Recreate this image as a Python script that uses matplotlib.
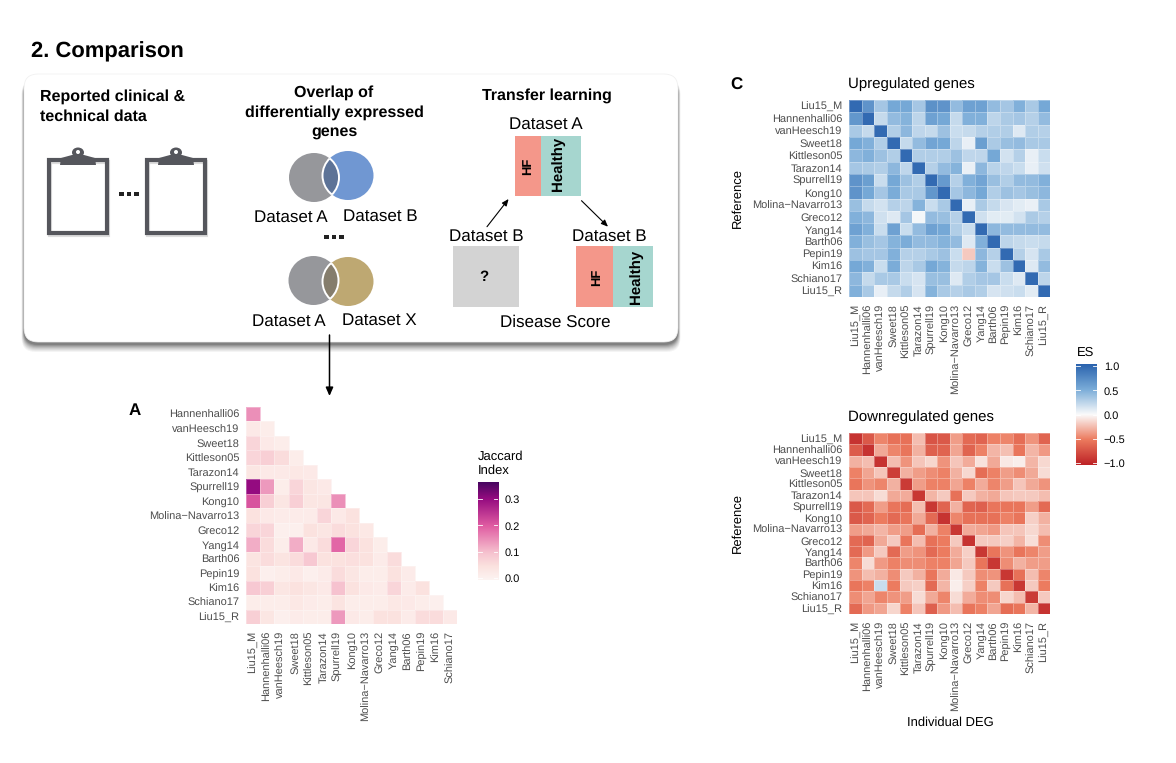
import numpy as np
import matplotlib
matplotlib.use("Agg")
import matplotlib.pyplot as plt
from matplotlib.patches import Ellipse, Rectangle, FancyBboxPatch, Polygon
from matplotlib.colors import LinearSegmentedColormap

plt.rcParams['font.family'] = ['Liberation Sans', 'DejaVu Sans']
plt.rcParams['text.hinting'] = 'no_hinting'
plt.rcParams['text.hinting_factor'] = 1

W, H = 1176, 763

labels = ["Liu15_M", "Hannenhalli06", "vanHeesch19", "Sweet18", "Kittleson05", "Tarazon14",
          "Spurrell19", "Kong10", "Molina\u2212Navarro13", "Greco12", "Yang14", "Barth06",
          "Pepin19", "Kim16", "Schiano17", "Liu15_R"]

jaccard = [
    [.15],
    [.03, .02],
    [.07, .03, .02],
    [.07, .08, .06, .02],
    [.04, .03, .03, .035, .03],
    [.30, .14, .02, .07, .04, .03],
    [.21, .08, .04, .08, .04, .04, .15],
    [.05, .03, .025, .025, .025, .07, .03, .05],
    [.07, .07, .015, .015, .05, .04, .06, .05, .035],
    [.12, .06, .02, .12, .03, .06, .19, .07, .05, .02],
    [.045, .06, .045, .06, .09, .05, .05, .055, .05, .025, .06],
    [.05, .015, .02, .03, .015, .025, .06, .04, .02, .02, .05, .025],
    [.09, .08, .04, .05, .04, .03, .10, .05, .03, .025, .07, .025, .05],
    [.02, .02, .02, .035, .025, .02, .045, .02, .02, .02, .035, .03, .02, .015],
    [.08, .04, .015, .025, .02, .02, .14, .03, .02, .05, .05, .025, .06, .06, .03],
]

up_es = [
    [1, .7, .35, .55, .55, .35, .72, .7, .42, .6, .6, .42, .35, .5, .33, .55],
    [.68, 1, .22, .42, .48, .25, .6, .55, .22, .5, .5, .25, .32, .35, .28, .42],
    [.33, .22, 1, .3, .45, .24, .22, .38, .2, .22, .28, .3, .3, .12, .3, .28],
    [.55, .5, .3, 1, .22, .42, .58, .55, .25, .08, .62, .32, .4, .42, .33, .33],
    [.45, .5, .38, .3, 1, .3, .3, .3, .38, .24, .24, .55, .17, .28, .08, .2],
    [.35, .32, .3, .45, .24, 1, .28, .42, .48, .07, .45, .27, .24, .2, .08, .18],
    [.7, .62, .2, .55, .38, .3, 1, .65, .28, .5, .58, .4, .3, .42, .42, .5],
    [.7, .55, .35, .52, .33, .33, .68, 1, .35, .45, .55, .3, .38, .35, .4, .45],
    [.4, .22, .17, .28, .25, .48, .2, .33, 1, .08, .32, .22, .14, .1, .07, .33],
    [.5, .45, .18, .12, .35, .03, .42, .4, .28, 1, .18, .1, .1, .17, .32, .28],
    [.6, .5, .2, .6, .2, .42, .6, .55, .3, .2, 1, .45, .42, .42, .42, .42],
    [.5, .4, .35, .48, .52, .42, .42, .48, .42, .12, .5, 1, .25, .22, .2, .22],
    [.38, .35, .35, .5, .28, .28, .33, .38, .2, -.2, .45, .28, 1, .28, .15, .33],
    [.55, .5, .2, .52, .25, .33, .55, .48, .22, .25, .48, .2, .38, 1, .12, .42],
    [.45, .22, .33, .33, .2, .15, .4, .4, .12, .3, .35, .35, .2, .12, 1, .25],
    [.5, .33, .08, .22, .3, .15, .48, .33, .28, .33, .3, .15, .18, .2, .1, 1],
]

down_es = [
    [-.95, -.72, -.48, -.58, -.58, -.25, -.75, -.72, -.38, -.62, -.65, -.5, -.48, -.6, -.42, -.65],
    [-.7, -.95, -.33, -.48, -.55, -.3, -.68, -.65, -.35, -.65, -.5, -.28, -.24, -.55, -.28, -.4],
    [-.3, -.25, -.95, -.25, -.42, -.22, -.15, -.42, -.22, -.32, -.1, -.33, -.08, -.05, -.28, -.14],
    [-.5, -.35, -.22, -.88, -.3, -.38, -.45, -.5, -.3, -.14, -.6, -.5, -.38, -.45, -.33, -.13],
    [-.55, -.42, -.48, -.3, -.9, -.38, -.5, -.5, -.35, -.5, -.32, -.48, -.38, -.22, -.33, -.42],
    [-.22, -.22, -.13, -.33, -.32, -.92, -.28, -.2, -.58, -.2, -.3, -.33, -.22, -.2, -.2, -.25],
    [-.72, -.62, -.38, -.55, -.6, -.25, -.92, -.65, -.3, -.65, -.68, -.55, -.55, -.55, -.38, -.62],
    [-.72, -.65, -.52, -.62, -.55, -.33, -.62, -.95, -.48, -.58, -.58, -.58, -.5, -.55, -.18, -.3],
    [-.38, -.33, -.28, -.38, -.38, -.6, -.3, -.5, -.92, -.32, -.35, -.4, -.22, -.22, -.14, -.25],
    [-.62, -.65, -.33, -.2, -.55, -.25, -.58, -.52, -.2, -.95, -.2, -.2, -.18, -.28, -.12, -.45],
    [-.62, -.4, -.2, -.62, -.38, -.42, -.62, -.52, -.32, -.18, -.92, -.55, -.42, -.55, -.48, -.38],
    [-.48, -.13, -.4, -.5, -.45, -.45, -.5, -.5, -.35, -.2, -.55, -.92, -.45, -.3, -.38, -.38],
    [-.42, -.25, -.3, -.45, -.2, -.3, -.55, -.32, -.08, -.2, -.45, -.42, -.92, -.58, -.25, -.48],
    [-.55, -.5, .2, -.52, -.2, -.18, -.62, -.28, -.05, -.18, -.5, -.2, -.58, -.92, -.2, -.52],
    [-.45, -.35, -.48, -.42, -.38, -.13, -.33, -.48, -.13, -.32, -.45, -.45, -.15, -.25, -.9, -.2],
    [-.62, -.4, -.35, -.15, -.5, -.22, -.68, -.4, -.25, -.55, -.5, -.35, -.6, -.55, -.28, -.95],
]

jaccard_ticks = [0.0, 0.1, 0.2, 0.3]
es_ticks = [-1.0, -0.5, 0.0, 0.5, 1.0]
JMAX = 0.365
ESMAX = 1.05

cm_j = LinearSegmentedColormap.from_list("j", [(0, "#fdf4f2"), (.05 / JMAX, "#fbe2df"), (.1 / JMAX, "#f6c2cf"),
                                               (.2 / JMAX, "#e05ca2"), (.3 / JMAX, "#950b80"), (1, "#42065e")])
cm_es = LinearSegmentedColormap.from_list("es", [(0, "#bd2226"), (.25, "#ec7a5e"), (.5, "#fbfbfb"),
                                                 (.75, "#7aacd8"), (1, "#2a63ae")])
GREY = "#4d4d4d"

fig = plt.figure(figsize=(W / 100, H / 100), dpi=100, facecolor="white")


def pxaxes(x0, y0, x1, y1, **kw):
    return fig.add_axes([x0 / W, 1 - y1 / H, (x1 - x0) / W, (y1 - y0) / H], **kw)


bg = pxaxes(0, 0, W, H)
bg.set_xlim(0, W)
bg.set_ylim(H, 0)
bg.axis("off")


def T(x, y, s, size=12.3, weight="normal", ha="center", va="center", rot=0, color="black"):
    return bg.text(x, y, s, fontsize=size, fontweight=weight, ha=ha, va=va, rotation=rot, color=color)


def dots(cx, cy, col="#222222"):
    for dx in (-7.5, 0, 7.5):
        bg.add_patch(Rectangle((cx + dx - 2.3, cy - 2.3), 4.6, 4.6, fc=col, ec="none", zorder=5))


T(31, 52, "2. Comparison", size=16.2, weight="bold", ha="left")

# shadow + box
for grow, a in [(8, .05), (7, .06), (6, .07), (5, .08), (4, .10), (3, .12), (2, .16), (1, .2)]:
    bg.add_patch(FancyBboxPatch((24 - grow * .3, 80), 654 + grow * .6, 264 + grow, boxstyle="round,pad=0,rounding_size=14",
                                fc="#303030", ec="none", alpha=a))
bg.add_patch(FancyBboxPatch((24, 74), 654, 268, boxstyle="round,pad=0,rounding_size=14", fc="white", ec="#eeeeee", lw=.5))

# clipboards
for cx0 in (49, 147):
    cx1 = cx0 + 58
    bg.add_patch(Rectangle((cx0 + 1.2, 161.5), 58, 73, fc="none", ec="#aaaaaa", lw=3, alpha=.4))
    bg.add_patch(Rectangle((cx0, 160), 58, 73, fc="none", ec="#55565c", lw=3))
    mid = (cx0 + cx1) / 2
    bg.add_patch(Polygon([(mid - 18, 165), (mid - 17, 158), (mid - 6, 155), (mid + 6, 155), (mid + 17, 158), (mid + 18, 165)],
                         fc="#55565c", ec="none"))
    bg.add_patch(Ellipse((mid, 152.5), 12, 10, fc="#55565c", ec="none"))
    bg.add_patch(Ellipse((mid, 152), 4, 4, fc="white", ec="none"))
dots(129, 194)
T(40, 97, "Reported clinical &", size=11.6, weight="bold", ha="left")
T(40, 117, "technical data", size=11.6, weight="bold", ha="left")

# venn diagrams
T(334, 93, "Overlap of", size=11.6, weight="bold")
T(334, 113, "differentially expressed", size=11.6, weight="bold")
T(334, 133, "genes", size=11.6, weight="bold")


def venn(c1, c2, col2, lens):
    bg.add_patch(Ellipse(c1, 50, 49, fc="#96979b", ec="none", zorder=2))
    bg.add_patch(Ellipse(c2, 51, 49, fc=col2, ec="none", zorder=2))
    l = Ellipse(c1, 50, 49, fc=lens, ec="white", lw=1.4, zorder=3)
    bg.add_patch(l)
    l.set_clip_path(Ellipse(c2, 51, 49, transform=bg.transData))
    l2 = Ellipse(c2, 51, 49, fc="none", ec="white", lw=1.4, zorder=4)
    bg.add_patch(l2)
    l2.set_clip_path(Ellipse(c1, 50, 49, transform=bg.transData))


venn((314, 177.5), (348, 175.5), "#7097d2", "#5d7397")
venn((313.5, 280.5), (348, 281.5), "#bea872", "#857d6c")
T(290.5, 217, "Dataset A")
T(380.5, 216, "Dataset B")
dots(334, 237)
T(289, 321, "Dataset A")
T(379, 320, "Dataset X")

# transfer learning
T(547, 96, "Transfer learning", size=11.7, weight="bold")
T(545.5, 124, "Dataset A")
bg.add_patch(Rectangle((514.6, 135.7), 26.2, 60, fc="#f4978a", ec="none"))
bg.add_patch(Rectangle((540.8, 135.7), 39.8, 60, fc="#a6d6cf", ec="none"))
T(528, 166, "HF", size=9.5, weight="bold", rot=90)
T(558, 164, "Healthy", size=10.5, weight="bold", rot=90)
for st, en in (((487, 226.7), (508.6, 199)), ((581.5, 200.7), (608, 226.7))):
    bg.annotate("", xy=en, xytext=st, arrowprops=dict(arrowstyle="-|>,head_width=.17,head_length=.4", color="black", lw=.8,
                                                      shrinkA=0, shrinkB=0))
T(486, 236.7, "Dataset B")
T(609.5, 236.7, "Dataset B")
bg.add_patch(Rectangle((453, 246), 66, 60.7, fc="#d3d3d3", ec="none"))
T(484, 277, "?", size=11, weight="bold")
bg.add_patch(Rectangle((576.4, 246), 36.6, 60.7, fc="#f4978a", ec="none"))
bg.add_patch(Rectangle((613, 246), 40, 60.7, fc="#a6d6cf", ec="none"))
T(597, 277, "HF", size=9.5, weight="bold", rot=90)
T(636, 277, "Healthy", size=10.5, weight="bold", rot=90)
T(555, 322, "Disease Score")

# connecting arrow
bg.annotate("", xy=(329.5, 396), xytext=(329.5, 335),
            arrowprops=dict(arrowstyle="-|>,head_width=.22,head_length=.5", color="black", lw=1.1, shrinkA=0, shrinkB=0))


def heat(box, mat, cmap, vmin, vmax, xlabels, ylabels, xgap=5):
    x0, y0, x1, y1 = box
    ax = pxaxes(x0, y0, x1, y1)
    m = np.asarray(mat, dtype=float)
    ax.pcolormesh(np.ma.masked_invalid(m), cmap=cmap, vmin=vmin, vmax=vmax, edgecolors=(1, 1, 1, .3), linewidth=.4)
    ax.set_xlim(0, m.shape[1])
    ax.set_ylim(m.shape[0], 0)
    ax.set_xticks(np.arange(m.shape[1]) + .5)
    ax.set_yticks(np.arange(m.shape[0]) + .5)
    ax.set_xticklabels(xlabels, rotation=90, fontsize=8.2, color=GREY)
    ax.set_yticklabels(ylabels, fontsize=8.2, color=GREY)
    ax.tick_params(length=0, pad=xgap)
    for s in ax.spines.values():
        s.set_visible(False)
    return ax


def colorbar(box, cmap, vmin, vmax, ticks, fmt):
    x0, y0, x1, y1 = box
    ax = pxaxes(x0, y0, x1, y1)
    g = np.linspace(vmax, vmin, 256).reshape(-1, 1)
    ax.imshow(g, aspect="auto", cmap=cmap, vmin=vmin, vmax=vmax, extent=[0, 1, vmin, vmax])
    ax.set_xticks([])
    ax.yaxis.tick_right()
    ax.set_yticks(ticks)
    ax.set_yticklabels([fmt(t) for t in ticks], fontsize=8, color="black")
    ax.tick_params(axis="y", length=0, pad=5)
    for t in ticks:
        ax.plot([0, .2], [t, t], color="white", lw=.6)
        ax.plot([.8, 1], [t, t], color="white", lw=.6)
    ax.set_xlim(0, 1)
    ax.set_ylim(vmin, vmax)
    for s in ax.spines.values():
        s.set_visible(False)


# panel A
n_j = len(jaccard)
jm = np.full((n_j, n_j), np.nan)
for i, row in enumerate(jaccard):
    jm[i, :len(row)] = row
heat((246.3, 407, 457.3, 624), jm, cm_j, 0, JMAX, labels[:15], labels[1:], xgap=5)
T(135, 411, "A", size=12, weight="bold")
T(478, 457, "Jaccard", size=9.2, ha="left")
T(478, 470.5, "Index", size=9.2, ha="left")
colorbar((478, 482, 498, 580), cm_j, -0.0075, JMAX, jaccard_ticks, lambda t: f"{t:.1f}")

# panel C
heat((849.3, 100, 1050.3, 297), up_es, cm_es, -ESMAX, ESMAX, labels, labels, xgap=5)
heat((849.3, 433, 1050.3, 614), down_es, cm_es, -ESMAX, ESMAX, labels, labels, xgap=5)
T(736, 85, "C", size=12, weight="bold")
T(848, 84, "Upregulated genes", size=10.5, ha="left")
T(848, 417.5, "Downregulated genes", size=10.5, ha="left")
T(737, 198, "Reference", size=9.6, rot=90)
T(737, 523, "Reference", size=9.6, rot=90)
T(950, 723, "Individual DEG", size=9.6)
T(1077, 353, "ES", size=9.2, ha="left")
colorbar((1076, 364, 1097, 465), cm_es, -ESMAX, ESMAX, es_ticks,
         lambda t: f"{t:.1f}".replace("-", "\u2212"))

fig.savefig("out.png", dpi=100, facecolor="white")
